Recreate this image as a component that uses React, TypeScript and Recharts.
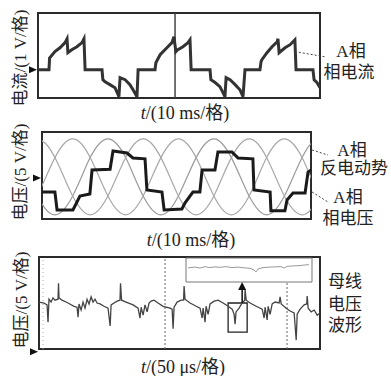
import React from "react";
import {
  CartesianGrid,
  Line,
  LineChart,
  ReferenceArea,
  ReferenceDot,
  ReferenceLine,
  XAxis,
  YAxis,
} from "recharts";

// panel 1: A phase current, t in ms (10 ms/div), value in V (1 V/div)
const currentTime = [
  0, 3.9, 4.1, 6.0, 7.8, 9.6, 10.3, 10.6, 12.1, 13.8, 15.6, 16.3, 16.7,
  22.7, 23.0, 23.8, 25.5, 27.3, 28.4, 28.7, 29.1, 30.9, 32.6, 33.7, 35.1, 35.5,
  41.5, 41.8, 43.3, 45.7, 47.5, 48.2, 48.9, 49.6, 51.4, 53.2, 53.9, 54.3,
  61.0, 61.3, 62.8, 64.5, 65.6, 66.3, 66.7, 68.1, 69.9, 71.6, 72.7, 73.4,
  78.7, 79.1, 79.4, 81.2, 83.0, 84.8, 85.1, 85.5, 87.6, 89.4, 91.1, 91.5,
  97.5, 97.9, 98.9, 100,
];
const currentValue = [
  0, 0, 0.45, 0.7, 0.85, 1.05, 1.2, 0.66, 0.78, 0.89, 1.05, 1.2, 0,
  0, -0.39, -0.47, -0.58, -0.7, -0.97, -1.05, -0.31, -0.39, -0.58, -0.78, -1.05, 0,
  0, 0.27, 0.58, 0.85, 1.05, 1.28, 0.7, 0.78, 0.89, 1.05, 1.16, 0,
  0, -0.39, -0.5, -0.66, -0.89, -1.05, -0.31, -0.39, -0.58, -0.78, -1.05, 0,
  0, 0.31, 0.39, 0.66, 0.89, 1.08, 1.2, 0.66, 0.85, 0.97, 1.16, 0,
  0, -0.39, -0.5, -0.7,
];

// panel 2: three back EMF curves and A phase voltage, t in ms, value in V (5 V/div)
const emfTime = [
  -1.7, 1.5, 4.8, 8.1, 11.4, 14.7, 17.9, 21.2, 24.5, 27.8, 31.1, 34.3, 37.6,
  40.9, 44.2, 47.5, 50.7, 54.0, 57.3, 60.6, 63.9, 67.1, 70.4, 73.7, 77.0,
  80.3, 83.5, 86.8, 90.1, 93.4, 96.7, 99.9, 103.2,
];
const emfA = [
  -4.5, -7.9, -9.2, -7.9, -4.5, 0.3, 5.1, 8.5, 9.8, 8.5, 5.1, 0.3, -4.5,
  -7.9, -9.2, -7.9, -4.5, 0.3, 5.1, 8.5, 9.8, 8.5, 5.1, 0.3, -4.5,
  -7.9, -9.2, -7.9, -4.5, 0.3, 5.1, 8.5, 9.8,
];
const emfB = [
  9.8, 8.5, 5.1, 0.3, -4.5, -7.9, -9.2, -7.9, -4.5, 0.3, 5.1, 8.5, 9.8,
  8.5, 5.1, 0.3, -4.5, -7.9, -9.2, -7.9, -4.5, 0.3, 5.1, 8.5, 9.8,
  8.5, 5.1, 0.3, -4.5, -7.9, -9.2, -7.9, -4.5,
];
const emfC = [
  -4.5, 0.3, 5.1, 8.5, 9.8, 8.5, 5.1, 0.3, -4.5, -7.9, -9.2, -7.9, -4.5,
  0.3, 5.1, 8.5, 9.8, 8.5, 5.1, 0.3, -4.5, -7.9, -9.2, -7.9, -4.5,
  0.3, 5.1, 8.5, 9.8, 8.5, 5.1, 0.3, -4.5,
];
const phaseVoltTime = [
  0, 4.8, 5.6, 11.5, 13.0, 14.1, 17.8, 18.6, 25.3, 26.4, 31.6, 33.8, 38.3, 39.0,
  44.6, 45.4, 52.0, 53.2, 56.1, 58.7, 59.5, 64.3, 65.4, 70.6, 72.9, 78.4, 78.8,
  84.8, 85.1, 90.3, 91.1, 93.3, 97.8, 98.9, 100,
];
const phaseVoltValue = [
  -3.5, -3.5, -8, -8, -6, -4.5, -4, 2, 2.2, 6.75, 6.25, 5, 4.8, -3,
  -3.5, -8, -7.75, -6.2, -3.5, -3.5, 2, 2, 6.5, 6.5, 5, 4.8, -3,
  -3.5, -8.2, -8.2, -5.5, -3.75, -3.75, 1.5, 2,
];

// panel 3: DC bus voltage, t in us (50 us/div), value in V (5 V/div)
const busTime = [
  -3.3, 0.8, 3.3, 4.1, 4.9, 6.6, 8.2, 9.8, 12.3, 12.7, 13.1, 15.6, 20.5, 25.4,
  27.9, 28.7, 29.5, 31.2, 32.8, 34.4, 36.1, 37.7, 39.4, 41.0, 42.6, 44.3, 46.7,
  50.0, 53.3, 55.0, 55.8, 58.2, 60.7, 63.1, 63.5, 64.4, 68.1, 73.8, 77.9, 79.5,
  80.4, 82.0, 83.6, 85.3, 86.9, 88.6, 91.0, 94.3, 98.4, 104.1, 105.8, 106.6,
  107.4, 109.9, 113.2, 115.2, 115.6, 116.4, 120.5, 125.5, 128.7, 130.4, 131.2,
  132.8, 133.6, 135.3, 136.9, 140.2, 143.5, 147.6, 151.7, 155.0, 156.6, 157.4,
  158.2, 160.7, 163.2, 165.3, 165.6, 166.5, 169.7, 174.7, 179.6, 181.2, 182.0,
  183.7, 184.5, 186.1, 187.8, 190.2, 193.5, 194.3, 195.2, 199.3, 202.5, 205.8,
  207.5, 208.3, 210.7, 214.0, 216.1, 216.5, 217.3, 219.8, 222.2, 224.7, 227.1,
];
const busValue = [
  10.0, 9.8, 9.4, 5.7, 10.6, 10.0, 10.9, 10.4, 10.6, 14.0, 10.9, 10.4, 9.8, 9.1,
  8.9, 6.8, 9.6, 8.3, 10.0, 8.7, 10.6, 9.6, 11.1, 10.0, 10.6, 9.8, 9.6,
  9.1, 8.7, 4.9, 9.4, 9.8, 10.2, 10.4, 14.0, 10.4, 10.0, 9.4, 8.7, 6.6,
  8.9, 7.2, 9.4, 7.9, 9.8, 10.2, 10.4, 9.8, 9.1, 8.7, 8.5, 4.3,
  8.9, 10.0, 10.4, 10.4, 13.4, 10.6, 9.8, 9.1, 8.7, 6.6, 8.7,
  5.7, 9.1, 7.4, 9.6, 10.2, 10.4, 9.8, 9.1, 8.5, 7.4, 5.3,
  7.9, 8.7, 9.8, 10.4, 12.6, 10.4, 9.8, 9.1, 8.5, 6.6, 8.9,
  6.2, 9.1, 7.4, 9.6, 10.0, 9.8, 11.1, 9.6, 8.7, 8.1, 7.7,
  1.9, 7.4, 8.5, 9.4, 9.6, 11.3, 8.7, 7.9, 8.3, 7.2, 7.7,
];
// zoomed detail shown in the inset (relative units)
const zoomTime = [
  1.6, 7.1, 11.1, 15.1, 19, 23, 27, 31.7, 36.5, 41.3, 46, 50.8, 54, 55.6, 57.1,
  61.1, 65.9, 70.6, 75.4, 77.8, 80.2, 84.9, 89.7, 94.4, 97.6,
];
const zoomValue = [
  5.9, 6.2, 5.8, 6.4, 6.0, 6.3, 6.1, 6.4, 6.0, 6.2, 5.9, 5.7, 5.0, 4.2, 5.4,
  6.0, 6.2, 6.3, 6.4, 5.8, 6.5, 6.7, 6.8, 7.1, 7.2,
];

const msTicks = [10, 20, 30, 40, 50, 60, 70, 80, 90];
const usTicks = [50, 100, 150, 200];

const zip = (t: number[], v: number[]) => t.map((x, i) => ({ t: x, v: v[i] }));

const FONT = '"Liberation Serif", "Times New Roman", "Noto Sans CJK SC", serif';
const frameStyle = { fill: "none", fillOpacity: 0, stroke: "#2b2b2b", strokeWidth: 2 };
const tickStyle = { stroke: "#333", strokeWidth: 1.5 };

function GroundMark(props: any) {
  const { cx, cy } = props;
  return <path d={`M${cx - 9},${cy - 3.5} L${cx - 1},${cy} L${cx - 9},${cy + 3.5} Z`} fill="#111" />;
}

function ArrowHead(props: any) {
  const { cx, cy } = props;
  return <path d={`M${cx},${cy} L${cx - 4},${cy + 8} L${cx + 4},${cy + 8} Z`} fill="#111" />;
}

function Txt({ x, y, size = 17, rotate = false, children }: any) {
  return (
    <div
      style={{
        position: "absolute",
        left: x,
        top: y,
        fontSize: size,
        lineHeight: 1,
        whiteSpace: "nowrap",
        transform: `translate(-50%, -50%)${rotate ? " rotate(-90deg)" : ""}`,
      }}
    >
      {children}
    </div>
  );
}

export default function App() {
  return (
    <div
      style={{
        position: "absolute",
        left: 0,
        top: 0,
        width: 391,
        height: 376,
        background: "#fff",
        overflow: "hidden",
        fontFamily: FONT,
        color: "#222",
      }}
    >
      {/* phase current */}
      <div style={{ position: "absolute", left: 0, top: 0 }}>
        <LineChart width={391} height={125} margin={{ top: 13, right: 71, bottom: 27, left: 38 }}>
          <CartesianGrid stroke="#b8b8b8" strokeDasharray="1 3" />
          <XAxis type="number" dataKey="t" domain={[0, 100]} ticks={msTicks} allowDataOverflow
            tick={false} tickSize={5} tickLine={tickStyle} axisLine={false} mirror height={0} />
          <YAxis type="number" domain={[-1.1, 2.2]} ticks={[0, 1, 2]} allowDataOverflow
            tick={false} tickSize={5} tickLine={tickStyle} axisLine={false} mirror width={0} />
          <ReferenceArea x1={0} x2={100} y1={-1.1} y2={2.2} {...frameStyle} />
          <ReferenceLine x={48.6} stroke="#444" strokeWidth={1.5} />
          <Line data={zip(currentTime, currentValue)} dataKey="v" type="linear" dot={false}
            stroke="#333" strokeWidth={3} isAnimationActive={false} />
          <ReferenceDot x={0} y={0} r={0} ifOverflow="visible" shape={GroundMark} />
          <ReferenceLine segment={[{ x: 91.1, y: 0.7 }, { x: 101.8, y: 0.5 }]} ifOverflow="visible"
            stroke="#444" strokeDasharray="2 2" />
        </LineChart>
      </div>

      {/* back EMF and phase voltage */}
      <div style={{ position: "absolute", left: 0, top: 120 }}>
        <LineChart width={391} height={110} margin={{ top: 12, right: 80, bottom: 11, left: 42 }}>
          <CartesianGrid stroke="#c0c0c0" strokeDasharray="1 3" />
          <XAxis type="number" dataKey="t" domain={[0, 100]} ticks={msTicks} allowDataOverflow
            tick={false} tickSize={5} tickLine={tickStyle} axisLine={false} mirror height={0} />
          <YAxis type="number" domain={[-10.25, 11.5]} ticks={[-5, 0, 5, 10]} allowDataOverflow
            tick={false} tickSize={5} tickLine={tickStyle} axisLine={false} mirror width={0} />
          <ReferenceArea x1={0} x2={100} y1={-10.25} y2={11.5} {...frameStyle} />
          <Line data={zip(emfTime, emfA)} dataKey="v" type="natural" dot={false}
            stroke="#9a9a9a" strokeWidth={1.2} isAnimationActive={false} />
          <Line data={zip(emfTime, emfB)} dataKey="v" type="natural" dot={false}
            stroke="#a8a8a8" strokeWidth={1.2} isAnimationActive={false} />
          <Line data={zip(emfTime, emfC)} dataKey="v" type="natural" dot={false}
            stroke="#a8a8a8" strokeWidth={1.2} isAnimationActive={false} />
          <Line data={zip(phaseVoltTime, phaseVoltValue)} dataKey="v" type="linear" dot={false}
            stroke="#1a1a1a" strokeWidth={3} isAnimationActive={false} />
          <ReferenceDot x={0} y={0} r={0} ifOverflow="visible" shape={GroundMark} />
          <ReferenceLine segment={[{ x: 100.4, y: 7 }, { x: 106.3, y: 5.75 }]} ifOverflow="visible"
            stroke="#444" strokeDasharray="2 2" />
          <ReferenceLine segment={[{ x: 100.4, y: -3.5 }, { x: 106.3, y: -6 }]} ifOverflow="visible"
            stroke="#444" strokeDasharray="2 2" />
        </LineChart>
      </div>

      {/* DC bus voltage */}
      <div style={{ position: "absolute", left: 0, top: 248 }}>
        <LineChart width={391} height={120} margin={{ top: 9, right: 71, bottom: 19, left: 39 }}>
          <CartesianGrid stroke="#aaa" strokeDasharray="1 3" />
          <XAxis type="number" dataKey="t" domain={[-3.3, 227]} ticks={usTicks} allowDataOverflow
            tick={false} tickSize={5} tickLine={tickStyle} axisLine={false} mirror height={0} />
          <YAxis type="number" domain={[0, 19.6]} ticks={[5, 10, 15]} allowDataOverflow
            tick={false} tickSize={5} tickLine={tickStyle} axisLine={false} mirror width={0} />
          <ReferenceArea x1={-3.3} x2={227} y1={0} y2={19.6} {...frameStyle} />
          <ReferenceLine x={0} stroke="#aaa" strokeDasharray="1 3" />
          <ReferenceLine x={100} stroke="#666" strokeDasharray="2 2" />
          <ReferenceLine x={200} stroke="#666" strokeDasharray="2 2" />
          <Line data={zip(busTime, busValue)} dataKey="v" type="linear" dot={false}
            stroke="#444" strokeWidth={1.3} isAnimationActive={false} />
          <ReferenceArea x1={151.7} x2={167.3} y1={3.6} y2={9.8} fill="none" fillOpacity={0}
            stroke="#222" strokeWidth={1.3} />
          <ReferenceLine segment={[{ x: 163.2, y: 9.8 }, { x: 163.2, y: 13 }]} stroke="#111" strokeWidth={1.5} />
          <ReferenceDot x={163.2} y={14.3} r={0} ifOverflow="visible" shape={ArrowHead} />
          <ReferenceDot x={-3.3} y={-0.6} r={0} ifOverflow="visible" shape={GroundMark} />
        </LineChart>
      </div>

      {/* inset: zoomed bus voltage */}
      <div style={{ position: "absolute", left: 185, top: 257 }}>
        <LineChart width={128} height={26} margin={{ top: 1, right: 1, bottom: 1, left: 1 }}>
          <XAxis type="number" dataKey="t" domain={[0, 100]} hide />
          <YAxis type="number" domain={[0, 10]} hide />
          <ReferenceArea x1={0} x2={100} y1={0} y2={10} fill="#fff" fillOpacity={1} stroke="#777" strokeWidth={1} />
          <Line data={zip(zoomTime, zoomValue)} dataKey="v" type="linear" dot={false}
            stroke="#999" strokeWidth={1} isAnimationActive={false} />
        </LineChart>
      </div>

      {/* axis titles */}
      <Txt x={20} y={58} rotate>电流/(1 V/格)</Txt>
      <Txt x={20} y={172} rotate>电压/(5 V/格)</Txt>
      <Txt x={21} y={300} rotate>电压/(5 V/格)</Txt>
      <Txt x={185} y={113} size={18}><i>t</i>/(10 ms/格)</Txt>
      <Txt x={191} y={240} size={18}><i>t</i>/(10 ms/格)</Txt>
      <Txt x={183} y={367} size={18}><i>t</i>/(50 μs/格)</Txt>

      {/* trace labels */}
      <Txt x={351} y={51}>A相</Txt>
      <Txt x={349} y={72}>相电流</Txt>
      <Txt x={352} y={150}>A相</Txt>
      <Txt x={354} y={168}>反电动势</Txt>
      <Txt x={348} y={197}>A相</Txt>
      <Txt x={348} y={218}>相电压</Txt>
      <Txt x={345} y={281}>母线</Txt>
      <Txt x={345} y={304}>电压</Txt>
      <Txt x={345} y={325}>波形</Txt>
    </div>
  );
}
